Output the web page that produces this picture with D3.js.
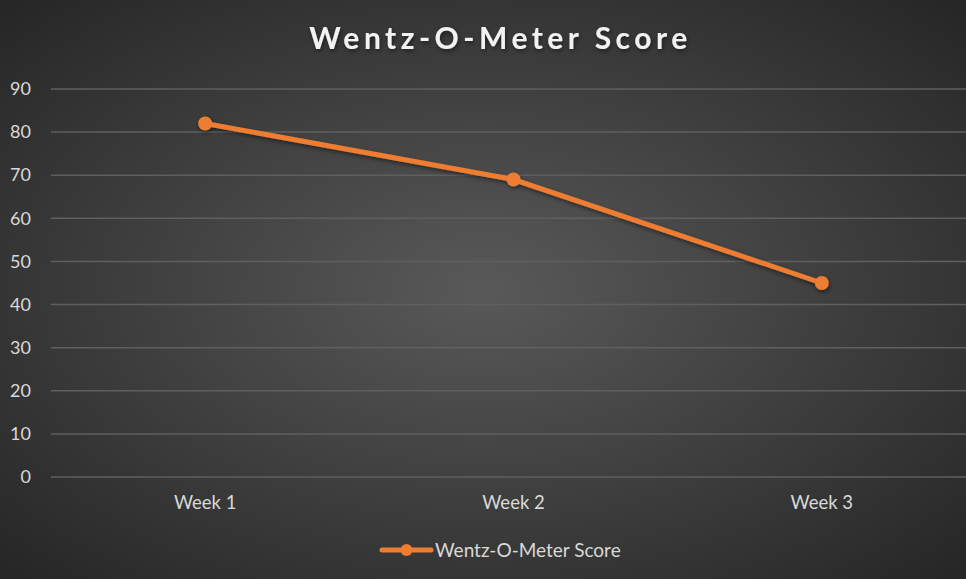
<!DOCTYPE html>
<html>
<head>
  <title>Wentz-O-Meter Score</title>
  <script src="https://d3js.org/d3.v7.min.js"></script>
  <style>
    body { margin: 0; background: #333; }
    svg { display: block; }
  </style>
</head>
<body>
<svg width="966" height="579"></svg>
<script>
  const weeks = ["Week 1", "Week 2", "Week 3"];
  const scores = [82, 69, 45];
  const yTicks = [0, 10, 20, 30, 40, 50, 60, 70, 80, 90];
  const seriesName = "Wentz-O-Meter Score";

  const svg = d3.select("svg"),
        width = +svg.attr("width"),
        height = +svg.attr("height");

  const font = "Lato, 'Open Sans', sans-serif";
  const orange = "#ED7D31";

  const defs = svg.append("defs");
  const grad = defs.append("radialGradient")
      .attr("id", "bg")
      .attr("cx", "50%").attr("cy", "50%").attr("r", "70%");
  grad.append("stop").attr("offset", "0%").attr("stop-color", "#595959");
  grad.append("stop").attr("offset", "100%").attr("stop-color", "#262626");

  const shadow = defs.append("filter").attr("id", "shadow")
      .attr("x", "-20%").attr("y", "-20%").attr("width", "140%").attr("height", "140%");
  shadow.append("feDropShadow")
      .attr("dx", 1).attr("dy", 2).attr("stdDeviation", 2)
      .attr("flood-color", "#000").attr("flood-opacity", 0.5);

  svg.append("rect")
      .attr("width", width).attr("height", height)
      .attr("fill", "url(#bg)");

  const margin = { left: 51, right: -10, top: 89, bottom: 102 };

  const x = d3.scaleBand()
      .domain(weeks)
      .range([margin.left, width - margin.right]);

  const y = d3.scaleLinear()
      .domain([0, 90])
      .range([height - margin.bottom, margin.top]);

  // gridlines
  svg.append("g")
    .selectAll("line")
    .data(yTicks)
    .enter().append("line")
      .attr("x1", margin.left)
      .attr("x2", width)
      .attr("y1", d => y(d))
      .attr("y2", d => y(d))
      .attr("stroke", "#5f5f5f")
      .attr("stroke-width", 1.5);

  // y axis labels
  const yAxis = svg.append("g")
      .attr("transform", `translate(${margin.left - 20},0)`)
      .call(d3.axisLeft(y).tickValues(yTicks).tickSize(0).tickPadding(0));
  yAxis.select(".domain").remove();
  yAxis.selectAll("text")
      .attr("fill", "#d9d9d9")
      .style("font-family", font)
      .style("font-size", "18px");

  // x axis labels
  const xAxis = svg.append("g")
      .attr("transform", `translate(0,${y(0)})`)
      .call(d3.axisBottom(x).tickSize(0).tickPadding(19));
  xAxis.select(".domain").remove();
  xAxis.selectAll("text")
      .attr("fill", "#d9d9d9")
      .style("font-family", font)
      .style("font-size", "18.5px");

  // title
  svg.append("text")
      .attr("x", 500.5)
      .attr("y", 49)
      .attr("text-anchor", "middle")
      .attr("fill", "#f2f2f2")
      .attr("filter", "url(#shadow)")
      .style("font-family", font)
      .style("font-size", "30px")
      .style("font-weight", "bold")
      .style("letter-spacing", "4.5px")
      .text(seriesName);

  const points = weeks.map((w, i) => ({ week: w, value: scores[i] }));
  const cx = d => x(d.week) + x.bandwidth() / 2;

  const series = svg.append("g").attr("filter", "url(#shadow)");

  series.append("path")
      .datum(points)
      .attr("fill", "none")
      .attr("stroke", orange)
      .attr("stroke-width", 5)
      .attr("stroke-linecap", "round")
      .attr("d", d3.line().x(cx).y(d => y(d.value)));

  series.selectAll("circle")
      .data(points)
      .enter().append("circle")
      .attr("cx", cx)
      .attr("cy", d => y(d.value))
      .attr("r", 7)
      .attr("fill", orange);

  // legend
  const legend = svg.append("g").attr("transform", "translate(382,550)");
  legend.append("line")
      .attr("x1", 0).attr("x2", 49)
      .attr("y1", 0).attr("y2", 0)
      .attr("stroke", orange)
      .attr("stroke-width", 5)
      .attr("stroke-linecap", "round");
  legend.append("circle")
      .attr("cx", 24.5).attr("cy", 0).attr("r", 6)
      .attr("fill", orange);
  legend.append("text")
      .attr("x", 53)
      .attr("y", 0)
      .attr("dy", "0.35em")
      .attr("fill", "#d9d9d9")
      .style("font-family", font)
      .style("font-size", "19px")
      .text(seriesName);
</script>
</body>
</html>
